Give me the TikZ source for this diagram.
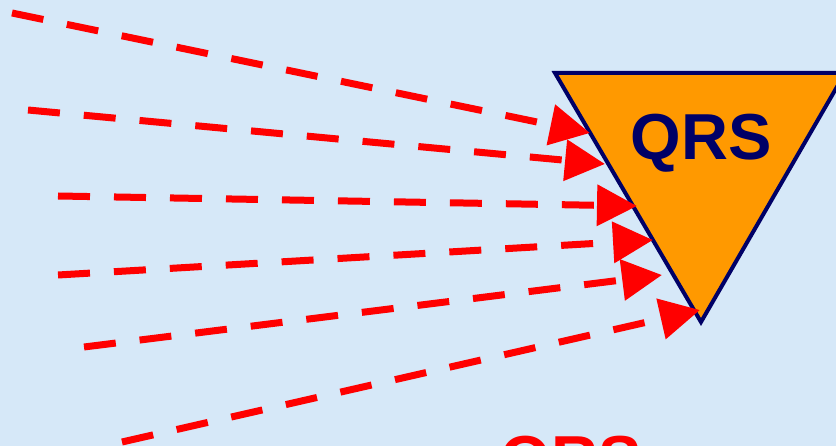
\documentclass[tikz,border=0pt]{standalone}
\usepackage{fontspec}
\setmainfont{Liberation Sans}
\usetikzlibrary{arrows.meta}
\definecolor{fondoAzul}{HTML}{D6E8F8}
\definecolor{trigNaranja}{HTML}{FF9900}
\definecolor{trigBorde}{HTML}{000066}
\definecolor{flechaRoja}{HTML}{FF0000}
\tikzset{
  fondo/.style={fill=fondoAzul, draw=none},
  trig/.style={fill=trigNaranja, draw=trigBorde, line width=4pt, line join=miter},
  etiqueta/.style={font=\fontsize{65}{70}\selectfont\bfseries, inner sep=0pt, anchor=base},
  arrflow/.style={flechaRoja, line width=7pt, dash pattern=on 32pt off 24pt,
    -{Triangle[length=40pt, width=40pt]}},
}

\begin{document}
\begin{tikzpicture}[x=1pt, y=-1pt]
\fill[fondo] (0,0) rectangle (836,446);
\useasboundingbox (0,0) rectangle (836,446);
\clip (0,0) rectangle (836,446);
% triangulo
\draw[trig] (555,73) -- (845,73) -- (701,322) -- cycle;
\node[etiqueta, text=trigBorde] (qrs) at (701,160) {QRS};
\node[etiqueta, text=flechaRoja] (qrsb) at (571,481) {QRS};
% puntos de las flechas
\coordinate (s1) at (12,13);   \coordinate (t1) at (590,133);
\coordinate (s2) at (28,110);  \coordinate (t2) at (605,164);
\coordinate (s3) at (58,196);  \coordinate (t3) at (637,206);
\coordinate (s4) at (58,275);  \coordinate (t4) at (653,240);
\coordinate (s5) at (84,347);  \coordinate (t5) at (662,275);
\coordinate (s6) at (122,442); \coordinate (t6) at (700,310);
\foreach \i in {1,...,6}
  \draw[arrflow] (s\i) -- (t\i);
\end{tikzpicture}
\end{document}
